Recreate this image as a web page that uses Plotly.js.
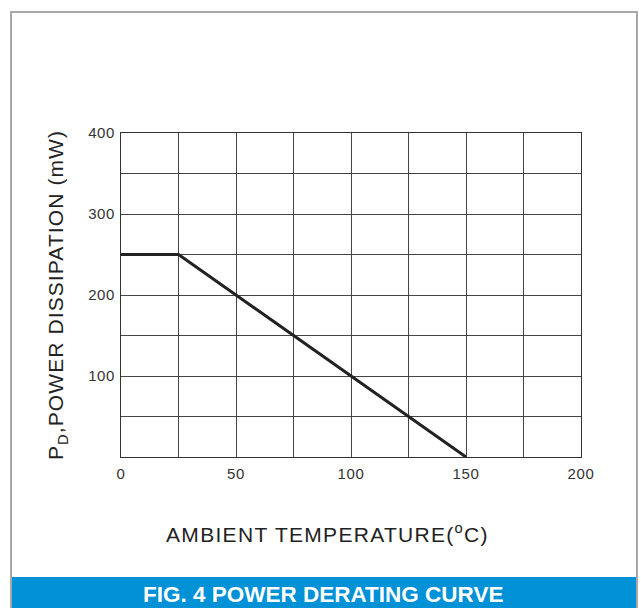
<!DOCTYPE html>
<html>
<head>
<meta charset="utf-8">
<script src="https://cdn.plot.ly/plotly-3.0.1.min.js"></script>
<style>
html,body{margin:0;padding:0;background:#fff;}
#chart{width:641px;height:608px;}
#chart .ytitle{letter-spacing:1.1px;}
#chart .annotation[data-index="0"] text{letter-spacing:1.3px;}
#chart .xtick text, #chart .ytick text{letter-spacing:0.6px;}
</style>
</head>
<body>
<div id="chart"></div>
<script>
// Data
var temperature = [0, 25, 150];
var powerDissipation = [250, 250, 0];
var xTickVals = [0, 50, 100, 150, 200];
var xTickText = ['0', '50', '100', '150', '200'];
var yTickVals = [100, 200, 300, 400];
var yTickText = ['100', '200', '300', '400'];
var xGridStep = 25;
var yGridStep = 50;
var xTitle = 'AMBIENT TEMPERATURE(<sup>o</sup>C)';
var yTitle = 'P<sub>D</sub>,POWER DISSIPATION (mW)';
var figCaption = 'FIG. 4 POWER DERATING CURVE';

var L = 121, R = 581, T = 133, B = 457, W = 641, H = 608;
function px(x){ return (x - L) / (R - L); }
function py(y){ return (B - y) / (B - T); }

var trace = {
  x: temperature, y: powerDissipation, type: 'scatter', mode: 'lines',
  line: {color: '#222222', width: 3}, hoverinfo: 'skip', showlegend: false
};

var layout = {
  width: W, height: H,
  margin: {l: L, r: W - R, t: T, b: H - B, pad: 0},
  paper_bgcolor: '#ffffff', plot_bgcolor: '#ffffff',
  font: {family: 'Liberation Sans, Arial, sans-serif', color: '#333333'},
  xaxis: {
    range: [0, 200], tickvals: xTickVals, ticktext: xTickText,
    showgrid: true, gridcolor: '#444444', gridwidth: 1,
    minor: {tick0: 0, dtick: xGridStep, showgrid: true, gridcolor: '#444444', gridwidth: 1, ticks: ''},
    showline: true, linecolor: '#333333', linewidth: 1, mirror: true,
    ticks: '', zeroline: false, fixedrange: true,
    tickfont: {size: 15, color: '#333333'},
    ticklabelstandoff: 3
  },
  yaxis: {
    range: [0, 400], tickvals: yTickVals, ticktext: yTickText,
    showgrid: true, gridcolor: '#444444', gridwidth: 1,
    minor: {tick0: 0, dtick: yGridStep, showgrid: true, gridcolor: '#444444', gridwidth: 1, ticks: ''},
    showline: true, linecolor: '#333333', linewidth: 1, mirror: true,
    ticks: '', zeroline: false, fixedrange: true,
    tickfont: {size: 15, color: '#333333'},
    ticklabelstandoff: 2,
    title: {text: yTitle, font: {size: 21, color: '#222222'}, standoff: 20}
  },
  shapes: [
    {type: 'rect', xref: 'paper', yref: 'paper', layer: 'below',
     x0: px(11), x1: px(637), y0: py(612), y1: py(12),
     line: {color: '#a8a8a8', width: 2}, fillcolor: 'rgba(0,0,0,0)'},
    {type: 'rect', xref: 'paper', yref: 'paper', layer: 'above',
     x0: px(12), x1: px(636), y0: py(612), y1: py(577),
     line: {width: 0}, fillcolor: '#0091d7'}
  ],
  annotations: [
    {text: xTitle, xref: 'paper', yref: 'paper',
     x: px(327), y: py(533), xanchor: 'center', yanchor: 'middle', showarrow: false,
     font: {size: 21, color: '#222222'}},
    {text: '<b>' + figCaption + '</b>', xref: 'paper', yref: 'paper',
     x: px(323), y: py(594), xanchor: 'center', yanchor: 'middle', showarrow: false,
     font: {family: 'Liberation Sans Narrow, Arial Narrow, Liberation Sans, sans-serif', size: 22.5, color: '#ffffff'}}
  ]
};

Plotly.newPlot('chart', [trace], layout, {displayModeBar: false, staticPlot: true});
</script>
</body>
</html>
